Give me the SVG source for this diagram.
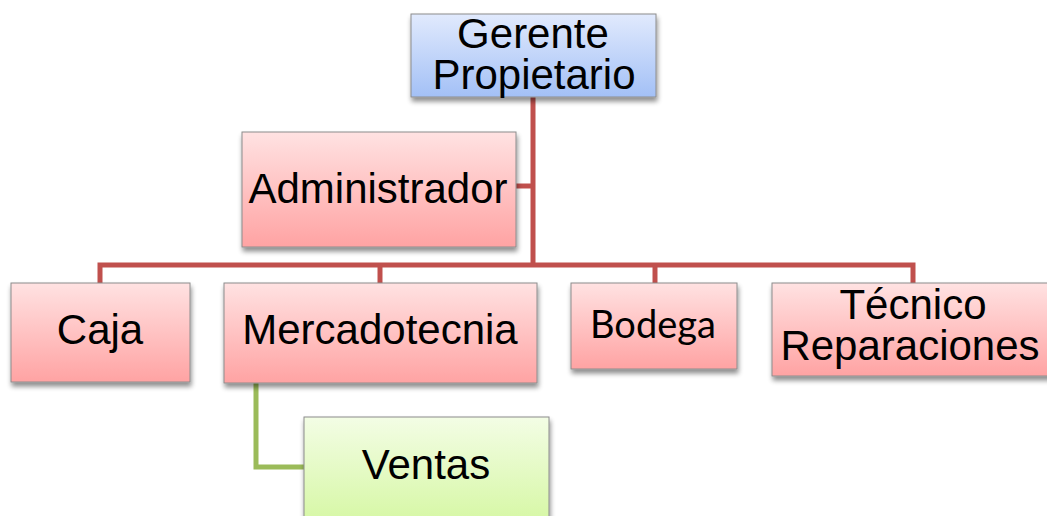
<svg xmlns="http://www.w3.org/2000/svg" width="1047" height="516" viewBox="0 0 1047 516">
<defs>
<linearGradient id="gPink" x1="0" y1="0" x2="0" y2="1"><stop offset="0" stop-color="#ffe2e2"/><stop offset="1" stop-color="#ffa3a3"/></linearGradient>
<linearGradient id="gBlue" x1="0" y1="0" x2="0" y2="1"><stop offset="0" stop-color="#e1eafd"/><stop offset="1" stop-color="#a3c0f6"/></linearGradient>
<linearGradient id="gGreen" x1="0" y1="0" x2="0" y2="1"><stop offset="0" stop-color="#f3fde5"/><stop offset="1" stop-color="#d5f7a2"/></linearGradient>
<filter id="sh" x="-10%" y="-10%" width="125%" height="130%"><feGaussianBlur in="SourceAlpha" stdDeviation="2.5"/><feOffset dx="1" dy="4"/><feComponentTransfer><feFuncA type="linear" slope="0.45"/></feComponentTransfer><feMerge><feMergeNode/><feMergeNode in="SourceGraphic"/></feMerge></filter>
</defs>
<style>
.box{stroke:#8c8c8c;stroke-width:1;filter:url(#sh)}
.pink{fill:url(#gPink)}
.blue{fill:url(#gBlue)}
.green{fill:url(#gGreen)}
.t{font-family:"Liberation Sans",Arial,sans-serif;font-size:42px;fill:#000;text-anchor:middle}
.tc{font-family:Lato,"Open Sans",sans-serif;font-size:38px;fill:#000;text-anchor:middle}
.red{stroke:#c0504d;stroke-width:5;fill:none}
.grn{stroke:#9bbb59;stroke-width:5;fill:none}
</style>
<g id="connectors">
<path class="red" d="M533 97 V265"/>
<path class="red" d="M516 186 H533"/>
<path class="red" d="M100 283 V265 H913 V283"/>
<path class="red" d="M380 265 V283"/>
<path class="red" d="M655 265 V283"/>
<path class="grn" d="M256 383 V467 H304"/>
</g>
<g id="gerente">
<rect class="box blue" x="411" y="14" width="245" height="83"/>
<text class="t" x="533" y="48">Gerente</text>
<text class="t" x="534" y="89">Propietario</text>
</g>
<g id="administrador">
<rect class="box pink" x="242" y="132" width="274" height="115"/>
<text class="t" x="378" y="203">Administrador</text>
</g>
<g id="caja">
<rect class="box pink" x="11" y="283" width="179" height="99"/>
<text class="t" x="100" y="344">Caja</text>
</g>
<g id="mercadotecnia">
<rect class="box pink" x="224" y="283" width="313" height="100"/>
<text class="t" x="380" y="344">Mercadotecnia</text>
</g>
<g id="bodega">
<rect class="box pink" x="571" y="283" width="166" height="86"/>
<text class="tc" x="653" y="338">Bodega</text>
</g>
<g id="tecnico">
<rect class="box pink" x="772" y="283" width="285" height="93"/>
<text class="t" x="913" y="319">Técnico</text>
<text class="t" x="910" y="360">Reparaciones</text>
</g>
<g id="ventas">
<rect class="box green" x="304" y="417" width="245" height="110"/>
<text class="t" x="426" y="479">Ventas</text>
</g>
</svg>
